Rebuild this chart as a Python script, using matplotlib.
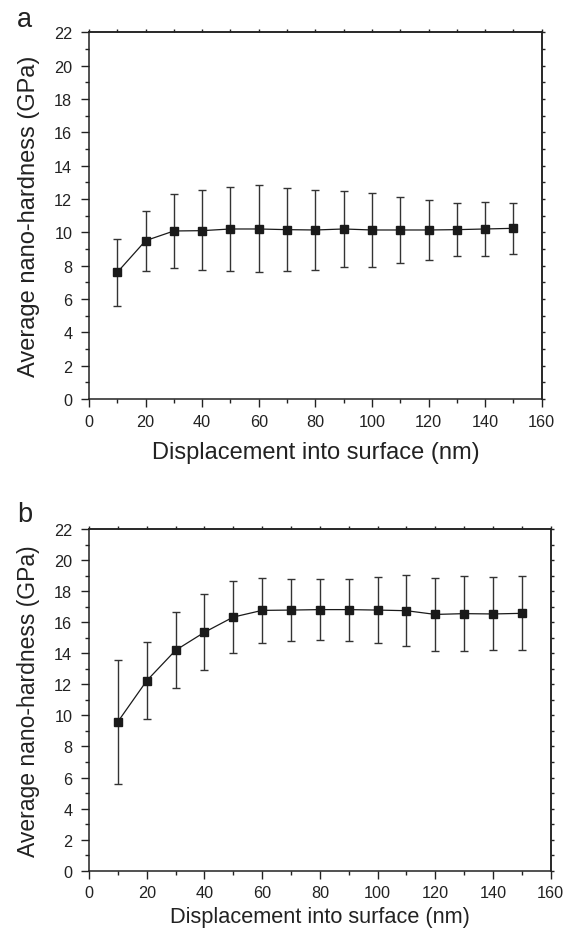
import matplotlib
matplotlib.use("Agg")
import matplotlib.pyplot as plt
from matplotlib.ticker import MultipleLocator, NullFormatter
import numpy as np

plt.rcParams['font.family'] = ['Liberation Sans', 'DejaVu Sans']

depth = [10, 20, 30, 40, 50, 60, 70, 80, 90, 100, 110, 120, 130, 140, 150]

hard_a = [7.6, 9.5, 10.08, 10.1, 10.2, 10.2, 10.16, 10.14, 10.2, 10.14, 10.14, 10.14, 10.16, 10.2, 10.24]
upper_a = [9.6, 11.28, 12.28, 12.52, 12.7, 12.82, 12.66, 12.54, 12.5, 12.34, 12.14, 11.94, 11.78, 11.8, 11.74]
lower_a = [5.6, 7.7, 7.88, 7.74, 7.7, 7.6, 7.66, 7.76, 7.9, 7.94, 8.14, 8.36, 8.56, 8.6, 8.72]

hard_b = [9.59, 12.23, 14.19, 15.35, 16.33, 16.76, 16.78, 16.81, 16.81, 16.78, 16.74, 16.5, 16.55, 16.53, 16.57]
upper_b = [13.59, 14.72, 16.68, 17.82, 18.63, 18.87, 18.8, 18.76, 18.8, 18.89, 19.04, 18.87, 18.95, 18.89, 18.95]
lower_b = [5.58, 9.74, 11.76, 12.92, 14.04, 14.66, 14.79, 14.85, 14.79, 14.68, 14.45, 14.14, 14.14, 14.19, 14.19]

xlabel = "Displacement into surface (nm)"
ylabel = "Average nano-hardness (GPa)"
panel_labels = ["a", "b"]

fig = plt.figure(figsize=(5.73, 9.37), dpi=100)
W, H = 573, 937
ax_a = fig.add_axes([89 / W, (H - 400) / H, 452.7 / W, 366.7 / H])
ax_b = fig.add_axes([89 / W, (H - 871.7) / H, 461.7 / W, 341.7 / H])

C = '#222222'
# (axes, values, upper, lower, xlabel size, ylabel size, xlabel pad)
datasets = [(ax_a, hard_a, upper_a, lower_a, 17.0, 17.0, 9.0),
            (ax_b, hard_b, upper_b, lower_b, 15.7, 16.5, 4.0)]
for ax, h, up, lo, xfs, yfs, xpad in datasets:
    h = np.array(h)
    yerr = np.vstack([h - np.array(lo), np.array(up) - h])
    ax.errorbar(depth, h, yerr=yerr, fmt='s-', color='#1a1a1a', ecolor='#333333',
                elinewidth=1.0, capsize=3, capthick=1.0, markersize=6, lw=0.9,
                markeredgecolor='#1a1a1a')
    ax.set_xlim(0, 160)
    ax.set_ylim(0, 22)
    ax.xaxis.set_major_locator(MultipleLocator(20))
    ax.xaxis.set_minor_locator(MultipleLocator(10))
    ax.yaxis.set_major_locator(MultipleLocator(2))
    ax.yaxis.set_minor_locator(MultipleLocator(1))
    ax.tick_params(which='both', direction='out', labelsize=11.7, colors=C, width=1.0)
    ax.tick_params(which='major', length=5.5)
    ax.tick_params(which='minor', length=3)
    ax.tick_params(axis='x', which='major', pad=5)
    ax.tick_params(axis='y', which='major', pad=6.5)
    # short ticks on top and right
    for loc in ('top', 'right'):
        if loc == 'top':
            sec = ax.secondary_xaxis('top')
            sec.xaxis.set_major_locator(MultipleLocator(20))
            sec.xaxis.set_minor_locator(MultipleLocator(10))
            sec.xaxis.set_major_formatter(NullFormatter())
        else:
            sec = ax.secondary_yaxis('right')
            sec.yaxis.set_major_locator(MultipleLocator(2))
            sec.yaxis.set_minor_locator(MultipleLocator(1))
            sec.yaxis.set_major_formatter(NullFormatter())
        sec.tick_params(which='both', direction='out', length=2.5, width=1.0, colors=C)
        for s in sec.spines.values():
            s.set_linewidth(1.1)
            s.set_color(C)
    for s in ax.spines.values():
        s.set_linewidth(1.1)
        s.set_color(C)
    ax.set_xlabel(xlabel, fontsize=xfs, color=C, labelpad=xpad)
    ax.set_ylabel(ylabel, fontsize=yfs, color=C, labelpad=10)

fig.text(17 / W, 1 - 27 / H, panel_labels[0], fontsize=19.5, color=C, va='baseline')
fig.text(17 / W, 1 - 522 / H, panel_labels[1], fontsize=19.5, color=C, va='baseline')

fig.savefig("out.png", dpi=100, facecolor='white')
